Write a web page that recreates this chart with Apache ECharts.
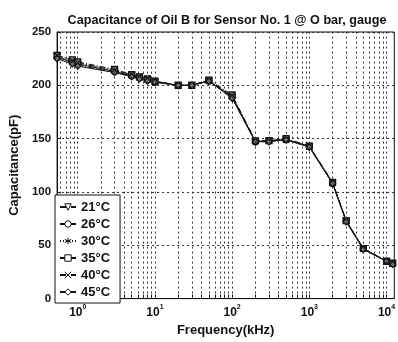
<!DOCTYPE html>
<html>
<head>
<meta charset="utf-8">
<script src="https://cdn.jsdelivr.net/npm/echarts@6/dist/echarts.min.js"></script>
<style>
  html, body { margin: 0; padding: 0; background: #fff; }
  #chart { width: 398px; height: 342px; }
</style>
</head>
<body>
<div id="chart"></div>
<script>
// frequency sweep in kHz, shared by all six temperatures
const freqs = [0.54, 0.85, 1, 3, 5, 6.3, 8, 10, 20, 30, 50, 100, 200, 300, 500, 1000, 2000, 3000, 5000, 10000, 12000];

const c21 = [227, 221, 219, 212, 209, 207, 205, 203, 200, 200, 204, 188, 147, 148, 149, 142, 108, 73, 47, 35, 33];
const c26 = [226, 222, 220, 213, 209, 207, 205, 203, 200, 200, 204, 189, 147, 148, 149, 143, 108, 73, 47, 35, 33];
const c30 = [227, 223, 221, 214, 210, 208, 206, 204, 200, 200, 204, 190, 148, 148, 150, 143, 109, 73, 47, 35, 33];
const c35 = [228, 224, 222, 215, 210, 208, 206, 204, 200, 200, 205, 191, 148, 148, 150, 143, 109, 73, 47, 35, 33];
const c40 = [228, 223, 221, 214, 210, 208, 206, 204, 200, 200, 205, 190, 148, 148, 149, 143, 109, 73, 47, 35, 33];
const c45 = [225, 220, 218, 212, 208, 206, 204, 203, 200, 200, 204, 188, 147, 147, 149, 142, 108, 72, 46, 35, 32];

const names = ['21°C', '26°C', '30°C', '35°C', '40°C', '45°C'];
const xTicks = [1, 10, 100, 1000, 10000];

const X_MIN = 0.54, X_MAX = 12600;
const INK = '#111';
const FONT = 'Liberation Sans, Arial, sans-serif';

// MATLAB-style log grid: every k*10^n inside the range
const gridX = [];
for (let n = -1; n <= 4; n++) {
  for (let k = 1; k <= 9; k++) {
    const v = k * Math.pow(10, n);
    if (v > X_MIN && v < X_MAX) gridX.push(v);
  }
}

const STAR = 'path://M0,-5L0,5M-4.3,-2.5L4.3,2.5M-4.3,2.5L4.3,-2.5';
const CROSS = 'path://M-4,-4L4,4M-4,4L4,-4';

const styles = [
  { data: c21, symbol: 'triangle', rotate: 180, type: [6, 2, 1, 2] },
  { data: c26, symbol: 'circle', rotate: 0, type: 'solid' },
  { data: c30, symbol: STAR, rotate: 0, type: [1, 2] },
  { data: c35, symbol: 'rect', rotate: 0, type: [6, 2, 1, 2] },
  { data: c40, symbol: CROSS, rotate: 0, type: [6, 2, 1, 2] },
  { data: c45, symbol: 'diamond', rotate: 0, type: 'solid' },
];

const chart = echarts.init(document.getElementById('chart'));

const series = styles.map((s, i) => ({
  name: names[i],
  type: 'line',
  data: freqs.map((f, j) => [f, s.data[j]]),
  symbol: s.symbol,
  symbolRotate: s.rotate,
  symbolSize: 6,
  showAllSymbol: true,
  clip: true,
  z: 3,
  lineStyle: { color: INK, width: 1, type: s.type },
  itemStyle: { color: '#777', borderColor: INK, borderWidth: 1.2 },
  emphasis: { disabled: true },
}));

// vertical dotted grid lines
series.push({
  type: 'line',
  data: [],
  z: 1,
  silent: true,
  markLine: {
    symbol: 'none',
    silent: true,
    animation: false,
    label: { show: false },
    lineStyle: { color: '#333', type: [2, 3], width: 1 },
    data: gridX.map((v) => ({ xAxis: v })),
  },
});

chart.setOption({
  animation: false,
  title: {
    text: 'Capacitance of Oil B for Sensor No. 1 @ O bar, gauge',
    left: 222, top: 9, textAlign: 'center',
    textStyle: { fontFamily: FONT, fontSize: 12.6, fontWeight: 'bold', color: INK },
  },
  grid: {
    left: 50, right: -1, top: 32, bottom: 37,
    show: true, borderColor: INK, borderWidth: 1, backgroundColor: 'transparent',
  },
  legend: {
    data: names.map((n) => ({ name: n, itemStyle: { color: '#fff', borderColor: INK, borderWidth: 1 } })),
    orient: 'vertical',
    left: 55, top: 195,
    itemWidth: 16, itemHeight: 8, itemGap: 3,
    padding: [5, 10, 4, 4],
    backgroundColor: '#fff',
    borderColor: INK, borderWidth: 1, borderRadius: 0,
    textStyle: { fontFamily: FONT, fontSize: 13, fontWeight: 'bold', color: INK, lineHeight: 14 },
    selectedMode: false,
    z: 10,
  },
  xAxis: {
    type: 'log', logBase: 10, min: X_MIN, max: X_MAX,
    name: 'Frequency(kHz)', nameLocation: 'middle', nameGap: 24,
    nameTextStyle: { fontFamily: FONT, fontSize: 13, fontWeight: 'bold', color: INK },
    axisLine: { lineStyle: { color: INK, width: 1 } },
    axisTick: { inside: true, length: 4, customValues: gridX, lineStyle: { color: INK } },
    splitLine: { show: false },
    axisLabel: {
      customValues: xTicks,
      margin: 5,
      formatter: (v) => '{b|10}{s|' + Math.round(Math.log10(v)) + '}',
      rich: {
        b: { fontFamily: FONT, fontSize: 12, fontWeight: 'bold', color: INK },
        s: { fontFamily: FONT, fontSize: 7, fontWeight: 'bold', color: INK, padding: [0, 0, 12, 0] },
      },
    },
  },
  yAxis: {
    type: 'value', min: 0, max: 250, interval: 50,
    name: 'Capacitance(pF)', nameLocation: 'middle', nameGap: 33,
    nameTextStyle: { fontFamily: FONT, fontSize: 13, fontWeight: 'bold', color: INK },
    axisLine: { show: true, lineStyle: { color: INK, width: 1 } },
    axisTick: { show: true, inside: true, length: 4, lineStyle: { color: INK } },
    axisLabel: { fontFamily: FONT, fontSize: 11.5, fontWeight: 'bold', color: INK, margin: 6 },
    splitLine: { show: true, lineStyle: { color: '#333', type: [2, 3], width: 1 } },
  },
  series,
});
</script>
</body>
</html>
